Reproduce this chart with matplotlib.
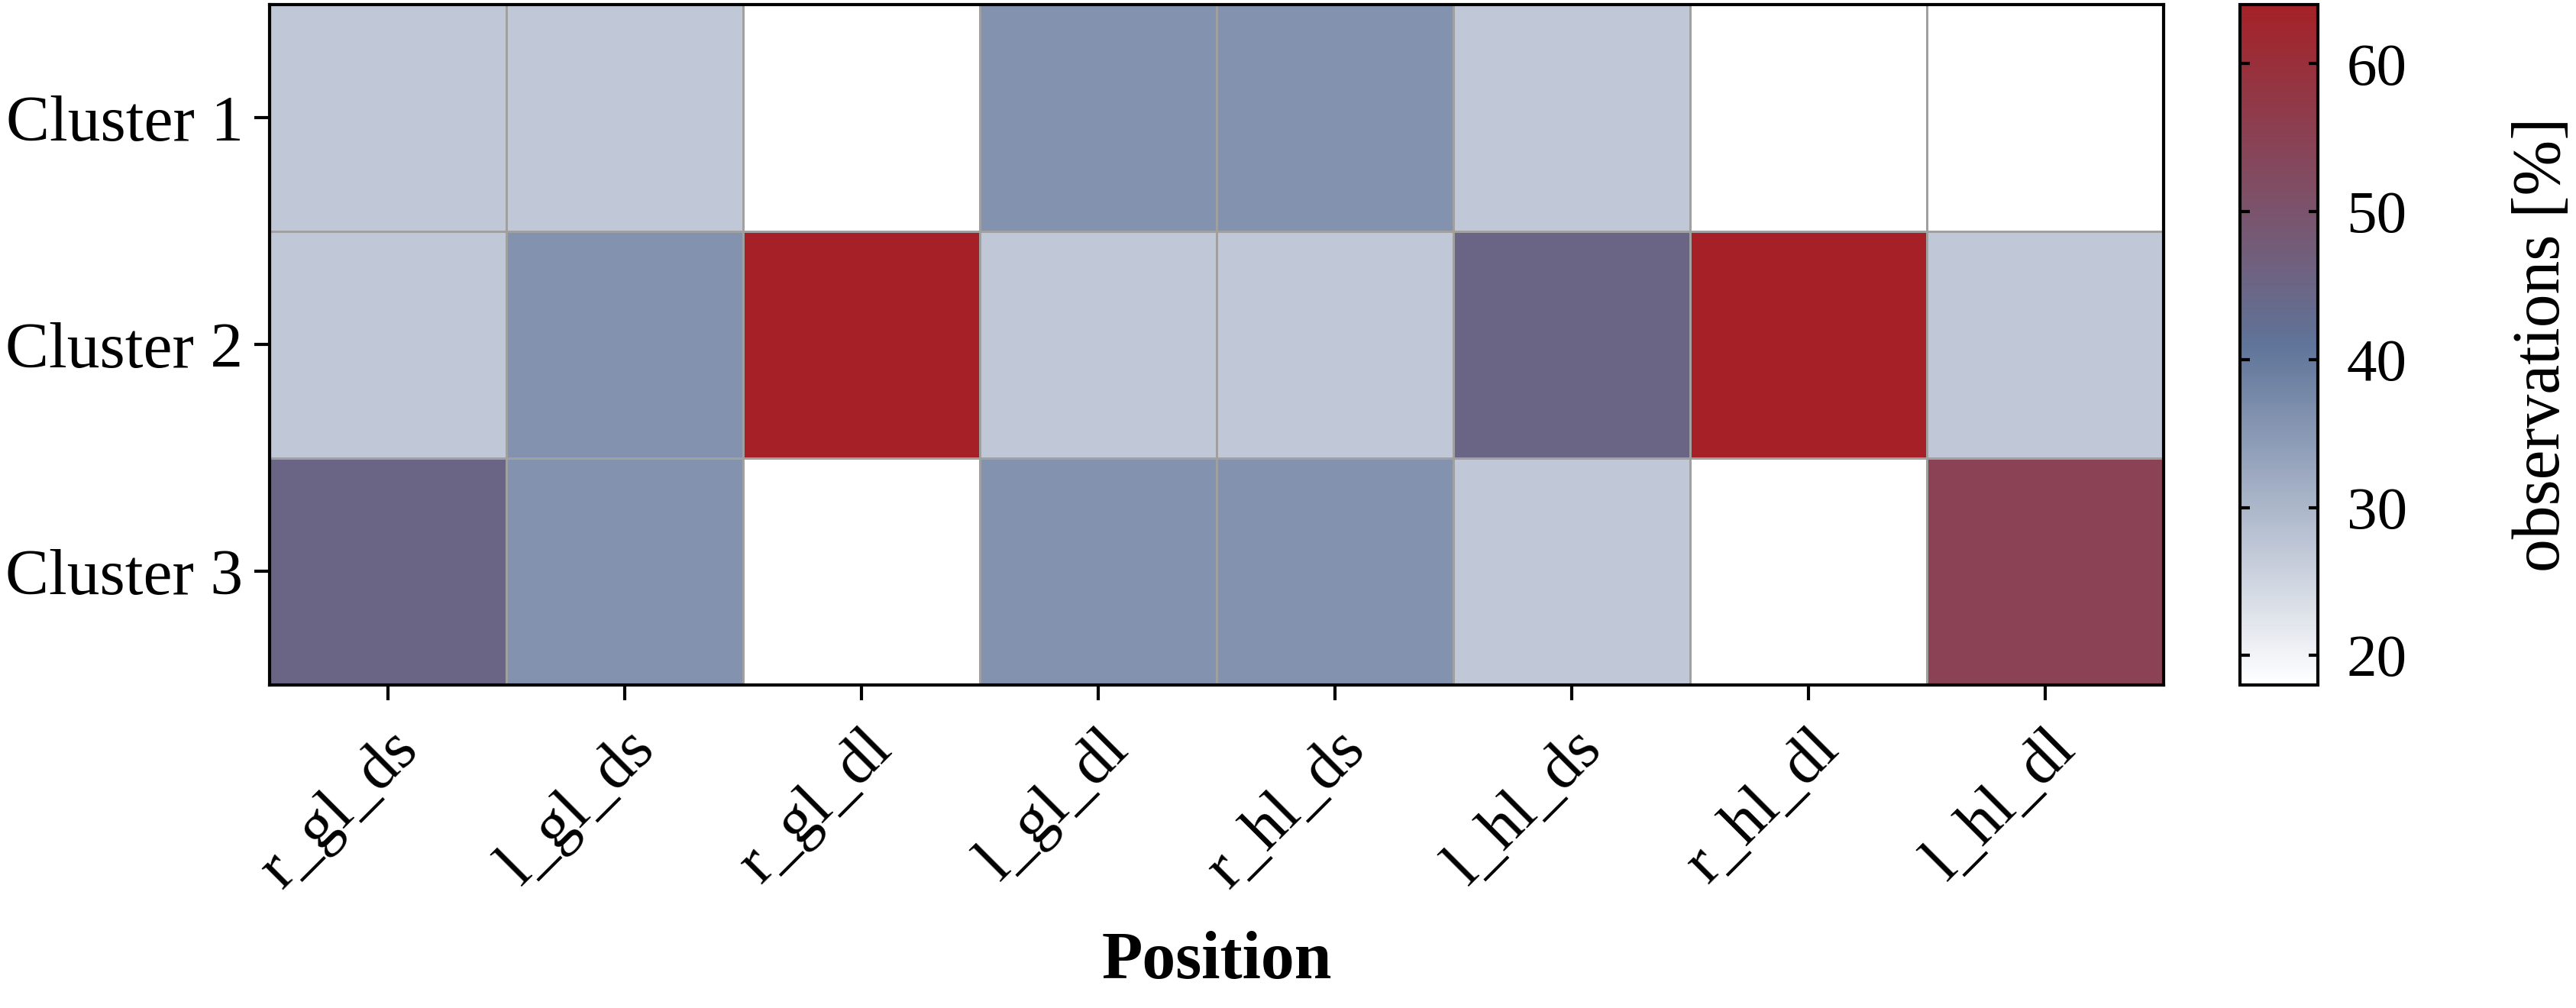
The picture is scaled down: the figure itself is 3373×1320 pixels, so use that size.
import numpy as np
import matplotlib
matplotlib.use("Agg")
import matplotlib.pyplot as plt
from matplotlib.colors import LinearSegmentedColormap

plt.rcParams['font.family'] = ['Liberation Serif', 'DejaVu Serif']
plt.rcParams['font.size'] = 20.5

positions = ['r_gl_ds', 'l_gl_ds', 'r_gl_dl', 'l_gl_dl',
             'r_hl_ds', 'l_hl_ds', 'r_hl_dl', 'l_hl_dl']
clusters = ['Cluster 1', 'Cluster 2', 'Cluster 3']

# observations in percent, one list per cluster
cluster1 = [27, 27, 18, 36, 36, 27, 18, 18]
cluster2 = [27, 36, 64, 27, 27, 45, 64, 27]
cluster3 = [45, 36, 18, 36, 36, 27, 18, 55]

data = np.array([cluster1, cluster2, cluster3])

cmap = LinearSegmentedColormap.from_list(
    'wbr', [(0.0, '#ffffff'), (0.5, '#5f7499'), (1.0, '#a52127')])

fig = plt.figure(figsize=(3373 / 300, 1320 / 300), dpi=300)
ax = fig.add_axes([0.1047, 0.3205, 0.7352, 0.675])
cax = fig.add_axes([0.8696, 0.3205, 0.0302, 0.675])

mesh = ax.pcolormesh(data, cmap=cmap, vmin=data.min(), vmax=data.max(),
                     edgecolors='#a0a0a0', linewidth=0.35)
ax.set_xlim(0, len(positions))
ax.set_ylim(len(clusters), 0)

ax.set_xticks(np.arange(len(positions)) + 0.5)
ax.set_xticklabels(positions, rotation=45, ha='right', rotation_mode='anchor')
ax.set_yticks(np.arange(len(clusters)) + 0.5)
ax.set_yticklabels(clusters)
ax.tick_params(direction='out', length=4.8, width=1.0)
ax.tick_params(axis='y', pad=3.5)
ax.tick_params(axis='x', pad=6)
for s in ax.spines.values():
    s.set_linewidth(1.0)
ax.set_xlabel('Position', fontweight='bold', fontsize=21, labelpad=10)

cb = fig.colorbar(mesh, cax=cax)
cb.set_ticks([20, 30, 40, 50, 60])
cb.outline.set_linewidth(1.0)
cax.tick_params(direction='in', length=3, width=1.0, left=True, right=True,
                pad=9, labelsize=19)
cb.set_label('observations [%]', fontsize=21, labelpad=33)

fig.savefig('out.png', dpi=300)
